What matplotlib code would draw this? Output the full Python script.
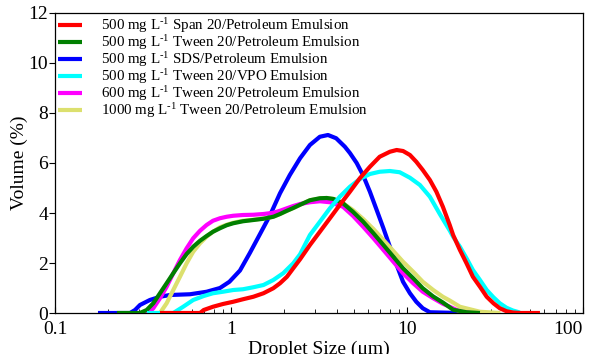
import matplotlib
matplotlib.use("Agg")
import matplotlib.pyplot as plt
from matplotlib.ticker import LogLocator, NullFormatter, FixedLocator, FixedFormatter

plt.rcParams['font.family'] = ['Liberation Serif', 'DejaVu Serif']
plt.rcParams['mathtext.fontset'] = 'custom'
plt.rcParams['mathtext.rm'] = 'Liberation Serif'
plt.rcParams['mathtext.it'] = 'Liberation Serif:italic'

# droplet size (um) / volume (%) for each emulsion
span_size = [0.395, 0.667, 0.70, 0.79, 0.90, 1.03, 1.17, 1.34, 1.53, 1.74, 1.90, 2.08,
             2.26, 2.47, 2.81, 3.20, 3.65, 4.15, 4.74, 5.4, 6.16, 7.0, 8.0, 8.74, 9.5,
             10.4, 11.3, 12.3, 13.5, 14.7, 16.0, 17.5, 18.3, 20.0, 21.8, 23.7, 26.0,
             28.4, 31.0, 33.7, 36.8, 40.0, 44.0, 57.0]
span_vol = [0, 0, 0.12, 0.25, 0.36, 0.45, 0.55, 0.65, 0.79, 0.99, 1.19, 1.45,
            1.79, 2.15, 2.72, 3.25, 3.79, 4.32, 4.85, 5.39, 5.85, 6.25, 6.45, 6.52, 6.48,
            6.32, 6.05, 5.72, 5.32, 4.85, 4.25, 3.52, 3.12, 2.52, 1.99, 1.45, 1.05,
            0.65, 0.39, 0.19, 0.07, 0.02, 0, 0]

tween_size = [0.225, 0.304, 0.332, 0.362, 0.395, 0.431, 0.47, 0.513, 0.56, 0.61, 0.667,
              0.727, 0.79, 0.866, 0.945, 1.03, 1.17, 1.34, 1.53, 1.74, 1.90, 2.08, 2.26,
              2.47, 2.81, 3.20, 3.5, 3.83, 4.33, 4.93, 5.64, 6.45, 7.35, 8.37, 9.5, 10.85,
              12.3, 14.1, 16.0, 18.3, 21.8, 26.0]
tween_vol = [0, 0, 0.12, 0.39, 0.79, 1.19, 1.59, 1.99, 2.36, 2.65, 2.89,
             3.08, 3.25, 3.39, 3.51, 3.59, 3.67, 3.72, 3.77, 3.85, 3.96, 4.09, 4.2,
             4.33, 4.51, 4.59, 4.6, 4.56, 4.39, 4.05, 3.65, 3.19, 2.72, 2.25, 1.79, 1.39,
             0.99, 0.66, 0.42, 0.13, 0.03, 0]

sds_size = [0.1755, 0.267, 0.285, 0.304, 0.346, 0.395, 0.45, 0.585, 0.727, 0.866,
            0.98, 1.125, 1.28, 1.46, 1.67, 1.90, 2.16, 2.47, 2.81, 3.20, 3.56, 3.96,
            4.44, 4.74, 5.18, 5.64, 6.16, 6.73, 7.35, 8.0, 8.74, 9.5, 10.4, 11.3,
            12.3, 13.5, 20.0]
sds_vol = [0, 0, 0.12, 0.32, 0.52, 0.65, 0.72, 0.75, 0.85, 1.0,
           1.25, 1.7, 2.4, 3.15, 3.92, 4.79, 5.52, 6.19, 6.72, 7.05, 7.12, 6.99,
           6.65, 6.4, 6.0, 5.5, 4.85, 4.12, 3.39, 2.65, 1.92, 1.25, 0.79, 0.45,
           0.19, 0.03, 0]

vpo_size = [0.333, 0.47, 0.535, 0.61, 0.70, 0.79, 0.90, 1.03, 1.17, 1.34, 1.53, 1.74,
            1.98, 2.26, 2.47, 2.81, 3.20, 3.65, 4.15, 4.74, 5.4, 6.16, 7.0, 8.0, 9.1,
            10.4, 11.85, 13.5, 15.4, 17.5, 18.3, 20.0, 21.8, 23.7, 26.0, 28.4, 31.0,
            33.7, 36.8, 40.0, 43.8]
vpo_vol = [0, 0, 0.25, 0.52, 0.68, 0.79, 0.85, 0.92, 0.95, 1.03, 1.12, 1.32,
           1.59, 1.99, 2.35, 3.12, 3.65, 4.19, 4.65, 5.05, 5.36, 5.56, 5.65, 5.68, 5.63,
           5.41, 5.12, 4.65, 3.95, 3.3, 3.05, 2.65, 2.19, 1.72, 1.32, 0.92, 0.63,
           0.39, 0.21, 0.1, 0.02]

t600_size = [0.30, 0.34, 0.362, 0.395, 0.431, 0.47, 0.513, 0.56, 0.61, 0.667, 0.727,
             0.79, 0.866, 0.945, 1.03, 1.17, 1.34, 1.53, 1.74, 1.90, 2.08, 2.26, 2.47,
             2.81, 3.20, 3.65, 4.33, 4.93, 5.64, 6.45, 7.35, 8.37, 9.5, 10.85, 12.3,
             14.1, 16.0, 17.5, 20.0, 23.0]
t600_vol = [0, 0, 0.19, 0.59, 1.05, 1.59, 2.12, 2.59, 2.99, 3.29, 3.52,
            3.69, 3.79, 3.85, 3.89, 3.92, 3.93, 3.96, 4.01, 4.09, 4.19, 4.28, 4.36,
            4.43, 4.47, 4.43, 4.25, 3.89, 3.45, 2.99, 2.52, 2.05, 1.59, 1.19, 0.85,
            0.59, 0.37, 0.25, 0.06, 0]

t1000_size = [0.30, 0.395, 0.431, 0.47, 0.513, 0.56, 0.61, 0.667, 0.727, 0.79, 0.866,
              0.945, 1.03, 1.17, 1.34, 1.53, 1.74, 1.90, 2.08, 2.26, 2.47, 2.81, 3.20,
              3.5, 3.83, 4.33, 4.93, 5.64, 6.45, 7.35, 8.37, 9.5, 10.85, 12.3, 14.1,
              16.0, 17.5, 20.0, 26.0, 34.0]
t1000_vol = [0, 0, 0.39, 0.92, 1.45, 1.99, 2.45, 2.79, 3.05, 3.25, 3.43,
             3.53, 3.61, 3.69, 3.73, 3.78, 3.85, 3.96, 4.09, 4.2, 4.33, 4.51, 4.58,
             4.6, 4.56, 4.39, 4.12, 3.76, 3.36, 2.92, 2.48, 2.05, 1.65, 1.25, 0.92,
             0.65, 0.5, 0.25, 0.05, 0]

labels = [r'500 mg L$^{\text{-1}}$ Span 20/Petroleum Emulsion',
          r'500 mg L$^{\text{-1}}$ Tween 20/Petroleum Emulsion',
          r'500 mg L$^{\text{-1}}$ SDS/Petroleum Emulsion',
          r'500 mg L$^{\text{-1}}$ Tween 20/VPO Emulsion',
          r'600 mg L$^{\text{-1}}$ Tween 20/Petroleum Emulsion',
          r'1000 mg L$^{\text{-1}}$ Tween 20/Petroleum Emulsion']

fig = plt.figure(figsize=(5.9, 3.54), dpi=100)
ax = fig.add_axes([0.0932, 0.1158, 0.8948, 0.8475])

kw = dict(lw=3, solid_joinstyle='round', solid_capstyle='butt')
l_sds, = ax.plot(sds_size, sds_vol, color='#0000ff', zorder=2, **kw)
l_1000, = ax.plot(t1000_size, t1000_vol, color='#dce06e', zorder=3, **kw)
l_600, = ax.plot(t600_size, t600_vol, color='#ff00ff', zorder=4, **kw)
l_tw, = ax.plot(tween_size, tween_vol, color='#007f00', zorder=5, **kw)
l_vpo, = ax.plot(vpo_size, vpo_vol, color='#00ffff', zorder=6, **kw)
l_span, = ax.plot(span_size, span_vol, color='#ff0000', zorder=7, **kw)

ax.set_xscale('log')
ax.set_xlim(0.1, 100)
ax.set_ylim(0, 12)
ax.set_yticks([0, 2, 4, 6, 8, 10, 12])

ax.xaxis.set_major_locator(FixedLocator([0.1, 1, 10, 100]))
ax.xaxis.set_major_formatter(FixedFormatter(['0.1', '1', '10', '100']))
ax.xaxis.set_minor_locator(LogLocator(base=10, subs=range(2, 10)))
ax.xaxis.set_minor_formatter(NullFormatter())

ax.tick_params(axis='x', which='major', direction='in', length=4, width=0.8,
               labelsize=14, pad=6, top=False)
ax.tick_params(axis='x', which='minor', direction='in', length=3, width=0.6, top=False)
ax.tick_params(axis='y', which='major', direction='out', length=4, width=0.8,
               labelsize=14, pad=1, right=False)
ax.get_xticklabels()[-1].set_horizontalalignment('right')

for s in ax.spines.values():
    s.set_linewidth(0.9)

ax.set_xlabel('Droplet Size (\u03bcm)', fontsize=14, labelpad=2)
ax.set_ylabel('Volume (%)', fontsize=14, labelpad=0)

ax.legend([l_span, l_tw, l_sds, l_vpo, l_600, l_1000], labels,
          loc='upper left', bbox_to_anchor=(0.0, 1.0), frameon=False,
          fontsize=10.8, handlelength=1.6, handletextpad=1.25,
          labelspacing=-0.12, borderpad=0.1, borderaxespad=0.1)

fig.savefig('out.png', dpi=100)
